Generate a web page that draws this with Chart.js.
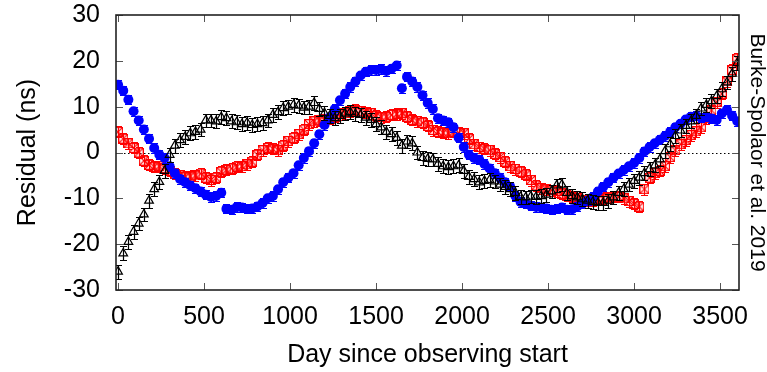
<!DOCTYPE html>
<html><head><meta charset="utf-8">
<script src="https://cdn.jsdelivr.net/npm/chart.js@4.4.0/dist/chart.umd.min.js"></script>
<style>html,body{margin:0;padding:0;background:#fff;overflow:hidden}</style>
</head><body>
<canvas id="c" width="767" height="372" style="display:block;width:767px;height:372px"></canvas>
<script>
const days = [
0,30,60,90,120,150,180,210,240,270,
300,330,360,390,420,450,480,510,540,570,
600,630,660,690,720,750,780,810,840,870,
900,930,960,990,1020,1050,1080,1110,1140,1170,
1200,1230,1260,1290,1320,1350,1380,1410,1440,1470,
1500,1530,1560,1590,1620,1650,1680,1710,1740,1770,
1800,1830,1860,1890,1920,1950,1980,2010,2040,2070,
2100,2130,2160,2190,2220,2250,2280,2310,2340,2370,
2400,2430,2460,2490,2520,2550,2580,2610,2640,2670,
2700,2730,2760,2790,2820,2850,2880,2910,2940,2970,
3000,3030,3060,3090,3120,3150,3180,3210,3240,3270,
3300,3330,3360,3390,3420,3450,3480,3510,3540,3570,
3600];
const blackResidual = [
-26,-22,-19.5,-17.3,-15.5,-13.5,-10.5,-8,-6.4,-4,
-0.5,1.5,2.7,3.4,4.2,4.5,5,7,7,6.8,
7.7,7.5,6.8,6.6,6.2,6.5,6,6.2,6.4,7,
8.2,8.8,9.7,10,10.4,10.2,9.8,10,10.8,9.5,
8.6,8,7.5,8,8.5,8.8,8.4,8.2,7.6,7.1,
6.2,5.5,4.5,4,3.2,1.5,2.4,2,0,-1.2,
-1.4,-1.5,-2.5,-3,-3.2,-3,-2.8,-4,-5.3,-5.8,
-6.5,-6.2,-6,-6.3,-7,-7.5,-8,-8.8,-9.7,-9.8,
-9.6,-9.7,-9.5,-9.2,-8.5,-7.2,-7,-8.8,-9.5,-9.8,
-10.2,-10.5,-10.8,-11,-11,-10.5,-9.8,-8.8,-8,-7,
-6.2,-5.5,-4.5,-3.6,-2.8,-1.5,0.3,1.8,3.6,4.8,
5.8,6.8,8,9.6,10.4,11.2,12.3,13.8,15.3,17.2,
19.5];
const redResidual = [
4.5,3,2,1,0,-1.8,-2.7,-3.1,-3,-3.4,
-4,-4.6,-5,-5.4,-5.2,-5,-4.6,-5.5,-6,-5.5,
-4.2,-3.8,-3.5,-3.1,-3,-2.6,-2,-0.5,0.5,1,
0.8,0.5,1.5,2.5,3.2,4,5,6.2,6.8,7,
7.1,7.4,7.8,8.4,8.6,9,9.3,9,8.8,8.6,
8,7.7,7.8,8.2,8.4,8.6,7.8,7.1,6.8,6.5,
5.8,4.9,4.5,4.3,4.2,4.5,4.3,4.2,3,1.8,
1.2,0.8,0.5,-0.3,-1,-2,-3,-3.6,-4.2,-4.8,
-6,-7.2,-7.8,-8,-8.2,-8.4,-9,-9.4,-9.7,-10,
-10.4,-10.5,-10.4,-10.2,-10,-9.8,-9.6,-9.7,-10,-10.6,
-11.2,-11.8,-8,-5.5,-4.5,-4,-3,-1,0.5,1.8,
2.7,3.8,4.6,5.5,7.5,9.2,11,12.8,15.5,18,
20.5];
const blueResidual = [
14.8,13.5,11.5,9,7,5,3,1,-0.5,-1.2,
-3,-4.5,-5.8,-6.5,-7.2,-7.8,-8.5,-9.2,-9.7,-9.5,
-8.8,-12.3,-12.5,-11.9,-12,-12.3,-12.2,-11.8,-11,-10,
-9.5,-8,-6.5,-5.5,-4.5,-2.8,-1.2,0.3,2,4,
6,7.7,9.5,11.4,12.8,14.3,15.5,16.8,17.6,18,
18,18.2,17.8,18.3,19,14,16.5,15.5,14.3,12.5,
10.8,9.5,7.5,7,6.6,5.5,3.2,1.2,-0.5,-1.2,
-1.6,-2.5,-3.5,-4.5,-5.5,-6.5,-7.5,-9.5,-10.8,-11.2,
-11.6,-11.9,-12,-12.2,-12.5,-12.3,-12,-12.5,-12.4,-11.8,
-11.2,-10.5,-9.7,-8.5,-7.5,-6.5,-5.5,-4.6,-3.8,-3,
-2.3,-1.2,0.2,1.2,2,2.8,3.6,4.5,5.5,6.3,
7.2,7.8,8,7.6,7.8,7.4,7.1,8.5,9.3,8,
6.8];
const blackError = 1.5;
const redError = 1.2;
const blueError = 1.0;
const xTickValues = [0,500,1000,1500,2000,2500,3000,3500];
const yTickValues = [-30,-20,-10,0,10,20,30];
const xTitle = 'Day since observing start';
const yTitle = 'Residual (ns)';
const sideNote = 'Burke-Spolaor et al. 2019';

const FONT = "'Liberation Sans', Arial, Helvetica, sans-serif";
Chart.defaults.font.family = FONT;
Chart.defaults.color = '#000';

function toPoints(vals){ return days.map((d,i)=>({x:d, y:vals[i]})); }

function boxCross(color){
  const c = document.createElement('canvas');
  c.width = 10; c.height = 10;
  const g = c.getContext('2d');
  g.strokeStyle = color; g.lineWidth = 1.2;
  g.strokeRect(0.6,0.6,8.8,8.8);
  g.beginPath();
  g.moveTo(0.6,0.6); g.lineTo(9.4,9.4);
  g.moveTo(9.4,0.6); g.lineTo(0.6,9.4);
  g.stroke();
  return c;
}

const errors = [blackError, blueError, redError];

const plotPlugin = {
  id: 'plotDecor',
  beforeDatasetsDraw(chart){
    const {ctx, chartArea:a, scales:{y}} = chart;
    ctx.save();
    ctx.strokeStyle = '#000';
    ctx.lineWidth = 1;
    ctx.setLineDash([1.5,2.5]);
    const y0 = Math.round(y.getPixelForValue(0)) + 0.5;
    ctx.beginPath(); ctx.moveTo(a.left, y0); ctx.lineTo(a.right, y0); ctx.stroke();
    ctx.restore();
  },
  beforeDatasetDraw(chart, args){
    const {ctx, chartArea:a, scales:{y}} = chart;
    const ds = chart.data.datasets[args.index];
    const err = errors[args.index];
    ctx.save();
    ctx.beginPath(); ctx.rect(a.left, a.top, a.right-a.left, a.bottom-a.top); ctx.clip();
    ctx.strokeStyle = ds.borderColor;
    ctx.lineWidth = 1.2;
    ctx.beginPath();
    args.meta.data.forEach((el, i) => {
      const v = ds.data[i].y;
      const px = Math.round(el.x) + 0.5;
      const t = Math.round(y.getPixelForValue(v + err)) + 0.5;
      const b = Math.round(y.getPixelForValue(v - err)) + 0.5;
      ctx.moveTo(px, t); ctx.lineTo(px, b);
      ctx.moveTo(px-3.5, t); ctx.lineTo(px+3.5, t);
      ctx.moveTo(px-3.5, b); ctx.lineTo(px+3.5, b);
    });
    ctx.stroke();
    ctx.restore();
  },
  afterDatasetsDraw(chart){
    const {ctx, chartArea:a, scales:{x,y}} = chart;
    ctx.save();
    ctx.strokeStyle = '#555';
    ctx.lineWidth = 1;
    ctx.beginPath();
    xTickValues.forEach(v => {
      const px = Math.round(x.getPixelForValue(v)) + 0.5;
      ctx.moveTo(px, a.bottom); ctx.lineTo(px, a.bottom - 7);
      ctx.moveTo(px, a.top); ctx.lineTo(px, a.top + 7);
    });
    yTickValues.forEach(v => {
      const py = Math.round(y.getPixelForValue(v)) + 0.5;
      ctx.moveTo(a.left, py); ctx.lineTo(a.left + 7, py);
      ctx.moveTo(a.right, py); ctx.lineTo(a.right - 7, py);
    });
    ctx.stroke();
    ctx.strokeStyle = '#222';
    ctx.lineWidth = 1.6;
    ctx.strokeRect(a.left, a.top, a.right - a.left, a.bottom - a.top);
    ctx.restore();
  }
};

new Chart(document.getElementById('c'), {
  type: 'scatter',
  data: {
    datasets: [
      { label: 'black', data: toPoints(blackResidual), borderColor: '#000', backgroundColor: 'rgba(0,0,0,0)',
        pointStyle: 'triangle', pointRadius: 5, pointBorderWidth: 1.2, showLine: false },
      { label: 'blue', data: toPoints(blueResidual), borderColor: '#0000ff', backgroundColor: '#0000ff',
        pointStyle: 'circle', pointRadius: 5, pointBorderWidth: 0, showLine: false },
      { label: 'red', data: toPoints(redResidual), borderColor: '#ff0000', backgroundColor: '#ff0000',
        pointStyle: boxCross('#ff0000'), pointRadius: 5, showLine: false }
    ]
  },
  options: {
    responsive: false,
    animation: false,
    devicePixelRatio: 1,
    layout: { padding: { top: 15, left: 0, right: 0, bottom: 0 } },
    plugins: { legend: { display: false }, tooltip: { enabled: false } },
    scales: {
      x: {
        type: 'linear', min: -12, max: 3610,
        afterBuildTicks: s => { s.ticks = xTickValues.map(v => ({ value: v })); },
        afterFit: s => { s.height = 82; s.paddingLeft = 0; s.paddingRight = 0; },
        grid: { display: false, drawTicks: false },
        border: { display: false },
        ticks: { padding: 12, font: { size: 25 }, color: '#000', maxRotation: 0, autoSkip: false, callback: v => String(v) },
        title: { display: true, text: xTitle, font: { size: 25 }, color: '#000', padding: { top: 0, bottom: 2 } }
      },
      y: {
        type: 'linear', min: -30, max: 30, position: 'left',
        afterBuildTicks: s => { s.ticks = yTickValues.map(v => ({ value: v })); },
        afterFit: s => { s.width = 116; s.paddingTop = 0; s.paddingBottom = 0; },
        grid: { display: false, drawTicks: false },
        border: { display: false },
        ticks: { padding: 16, font: { size: 25 }, color: '#000', callback: v => String(v) },
        title: { display: true, text: yTitle, font: { size: 25 }, color: '#000', padding: { top: 13, bottom: 0 } }
      },
      y2: {
        type: 'linear', min: -30, max: 30, position: 'right', display: true,
        afterFit: s => { s.width = 28; s.paddingTop = 0; s.paddingBottom = 0; },
        grid: { display: false, drawTicks: false },
        border: { display: false },
        ticks: { display: false },
        title: { display: true, text: sideNote, font: { size: 21, lineHeight: 1 }, color: '#000', padding: 0 }
      }
    }
  },
  plugins: [plotPlugin]
});
</script>
</body></html>
